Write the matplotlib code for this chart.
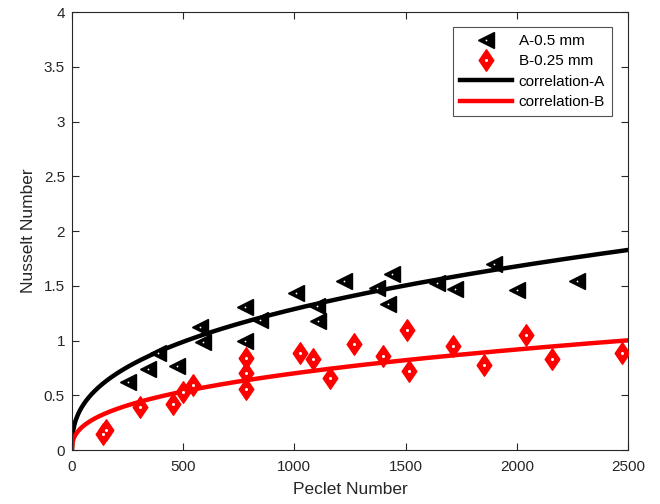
import numpy as np
import matplotlib
matplotlib.use("Agg")
import matplotlib.pyplot as plt
from matplotlib.path import Path
from matplotlib.lines import Line2D

plt.rcParams['font.family'] = ['Liberation Sans', 'DejaVu Sans']

# Series A (0.5 mm) measured points
peA = [253, 343, 388, 471, 576, 590, 778, 778, 845, 1007, 1100, 1108, 1225,
       1370, 1437, 1423, 1640, 1722, 1897, 2000, 2272]
nuA = [0.62, 0.74, 0.89, 0.77, 1.12, 0.99, 1.31, 1.00, 1.19, 1.43, 1.32, 1.18, 1.54,
       1.48, 1.61, 1.33, 1.53, 1.47, 1.70, 1.46, 1.54]

# Series B (0.25 mm) measured points
peB = [140, 155, 306, 453, 498, 543, 781, 781, 781, 1025, 1085, 1160, 1268,
       1400, 1505, 1515, 1715, 1852, 2041, 2160, 2471]
nuB = [0.15, 0.18, 0.39, 0.42, 0.53, 0.59, 0.84, 0.70, 0.56, 0.89, 0.83, 0.66, 0.97,
       0.86, 1.10, 0.72, 0.95, 0.78, 1.05, 0.83, 0.89]

# Correlation Nu = a * Pe^n
corrA = (0.0923, 0.3816)
corrB = (0.0474, 0.39)

labels = ['A-0.5 mm', 'B-0.25 mm', 'correlation-A', 'correlation-B']
xticks = [0, 500, 1000, 1500, 2000, 2500]
yticks = [0, 0.5, 1, 1.5, 2, 2.5, 3, 3.5, 4]
yticklabels = ['0', '0.5', '1', '1.5', '2', '2.5', '3', '3.5', '4']

diamond = Path([(0, 1), (0.68, 0), (0, -1), (-0.68, 0), (0, 1)],
               [Path.MOVETO, Path.LINETO, Path.LINETO, Path.LINETO, Path.CLOSEPOLY])

fig = plt.figure(figsize=(6.6, 5.04), dpi=100)
ax = fig.add_axes([0.109, 0.107, 0.8425, 0.869])

pe = np.linspace(0, 2500, 1000)
ax.plot(pe, corrA[0] * pe ** corrA[1], color='black', linewidth=3.2, zorder=2)
ax.plot(pe, corrB[0] * pe ** corrB[1], color='red', linewidth=3.2, zorder=2)

tri_ms = 11.5
dia_ms = 15.5
ax.plot(peA, nuA, linestyle='none', marker='<', markersize=tri_ms, markeredgewidth=1,
        markeredgecolor='black', markerfacecolor='black', zorder=3)
ax.plot(peA, nuA, linestyle='none', marker='o', markersize=1.3, markeredgewidth=0,
        markerfacecolor='white', zorder=4)
ax.plot(peB, nuB, linestyle='none', marker=diamond, markersize=dia_ms, markeredgewidth=1,
        markeredgecolor='red', markerfacecolor='red', zorder=3)
ax.plot(peB, nuB, linestyle='none', marker='o', markersize=2.2, markeredgewidth=0,
        markerfacecolor='white', zorder=4)

ax.set_xlim(0, 2500)
ax.set_ylim(0, 4)
ax.set_xticks(xticks)
ax.set_yticks(yticks)
ax.set_yticklabels(yticklabels)
ax.tick_params(direction='in', top=True, right=True, labelsize=11, length=5, width=0.8,
               colors='#262626')
ax.tick_params(axis='x', pad=7)
ax.tick_params(axis='y', pad=5)
for s in ax.spines.values():
    s.set_color('#262626')
    s.set_linewidth(0.8)
ax.set_xlabel('Peclet Number', fontsize=12.5, color='#262626', labelpad=6)
ax.set_ylabel('Nusselt Number', fontsize=12.5, color='#262626', labelpad=6)

handles = [
    (Line2D([], [], linestyle='none', marker='<', markersize=tri_ms, markeredgewidth=1,
            color='black'),
     Line2D([], [], linestyle='none', marker='o', markersize=1.3, markeredgewidth=0,
            markerfacecolor='white')),
    (Line2D([], [], linestyle='none', marker=diamond, markersize=dia_ms, markeredgewidth=1,
            color='red'),
     Line2D([], [], linestyle='none', marker='o', markersize=2.2, markeredgewidth=0,
            markerfacecolor='white')),
    Line2D([], [], color='black', linewidth=3.2),
    Line2D([], [], color='red', linewidth=3.2),
]
leg = ax.legend(handles, labels, loc='upper right', bbox_to_anchor=(0.971, 0.966),
                fontsize=11, frameon=True, fancybox=False, edgecolor='#262626',
                handlelength=3.4, borderpad=0.45, labelspacing=0.42, handletextpad=0.45,
                borderaxespad=0)
leg.get_frame().set_linewidth(0.8)

fig.savefig('out.png', dpi=100, facecolor='white')
